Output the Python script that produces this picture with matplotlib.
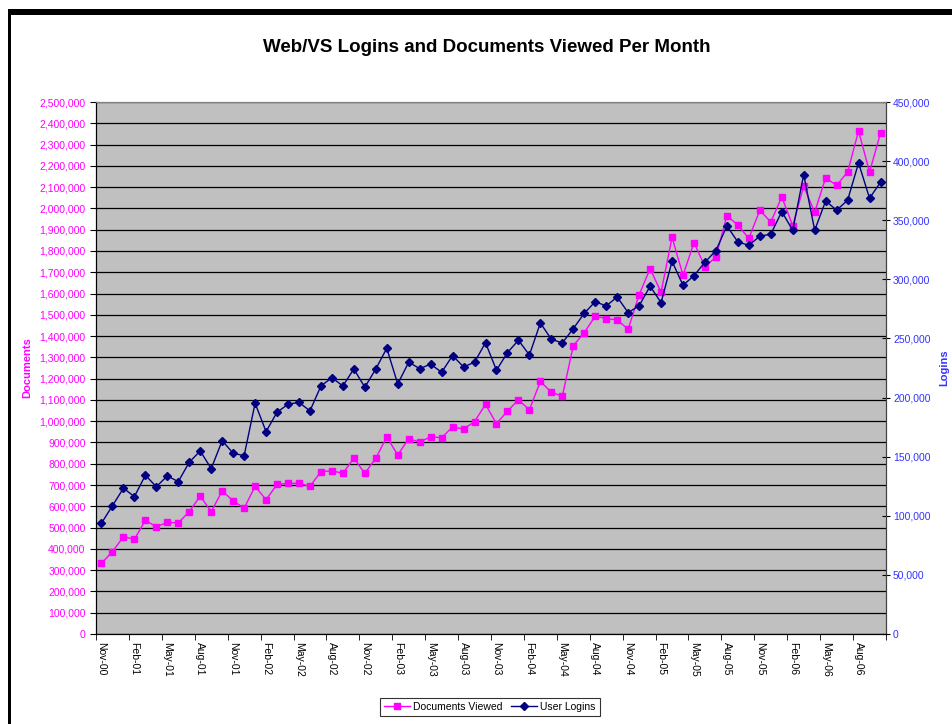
import numpy as np
import matplotlib
matplotlib.use("Agg")
import matplotlib.pyplot as plt
from matplotlib.patches import Rectangle
from matplotlib.ticker import FuncFormatter, MultipleLocator, FixedLocator

plt.rcParams['font.family'] = ['Liberation Sans', 'DejaVu Sans']

# monthly values, Nov-00 .. Oct-06
documents = [332000, 387000, 457000, 445000, 534000, 504000, 525000, 522000,
             575000, 648000, 575000, 672000, 626000, 591000, 694000, 631000,
             703000, 708000, 708000, 694000, 763000, 767000, 755000, 826000,
             755000, 826000, 926000, 841000, 918000, 902000, 927000, 922000,
             973000, 963000, 998000, 1079000, 988000, 1048000, 1100000, 1054000,
             1187000, 1136000, 1117000, 1355000, 1416000, 1494000, 1482000, 1476000,
             1432000, 1594000, 1717000, 1606000, 1864000, 1686000, 1839000, 1726000,
             1772000, 1966000, 1921000, 1859000, 1992000, 1936000, 2054000, 1919000,
             2104000, 1982000, 2144000, 2108000, 2171000, 2364000, 2171000, 2354000]

logins = [93700, 108500, 123300, 116200, 134300, 124600, 133700, 128900,
          145300, 154800, 139900, 163500, 152900, 150800, 195200, 171200,
          187600, 194300, 196000, 188700, 209800, 216800, 209800, 224200,
          208700, 224200, 241700, 211500, 229900, 224500, 228200, 221400,
          235500, 225900, 229900, 246400, 223100, 238000, 248500, 236000,
          263100, 249300, 246200, 258300, 271300, 281100, 277500, 285100,
          271800, 277700, 294200, 280300, 315300, 295000, 303100, 314500,
          324300, 345200, 331600, 328800, 336500, 338200, 357300, 341500,
          388600, 341500, 366300, 358500, 366900, 398500, 368600, 382100]

tick_labels = ["Nov-00", "Feb-01", "May-01", "Aug-01", "Nov-01", "Feb-02",
               "May-02", "Aug-02", "Nov-02", "Feb-03", "May-03", "Aug-03",
               "Nov-03", "Feb-04", "May-04", "Aug-04", "Nov-04", "Feb-05",
               "May-05", "Aug-05", "Nov-05", "Feb-06", "May-06", "Aug-06"]

doc_color = '#FF00FF'
login_color = '#000080'
right_color = '#3333FF'

fig = plt.figure(figsize=(9.52, 7.24), dpi=100)
fig.patch.set_facecolor('white')

# black frame at top and left
fig.add_artist(Rectangle((8/952, 0), 3/952, 1 - 9/724, transform=fig.transFigure,
                         facecolor='black', edgecolor='none'))
fig.add_artist(Rectangle((8/952, 1 - 15/724), 1, 6/724, transform=fig.transFigure,
                         facecolor='black', edgecolor='none'))

ax = fig.add_axes([96/952, 90/724, 790/952, 532/724])
ax.set_facecolor('#C0C0C0')
x = np.arange(len(documents))

ax.set_ylim(0, 2500000)
ax.set_xlim(-0.5, len(documents) - 0.5)
ax.yaxis.set_major_locator(MultipleLocator(100000))
ax.yaxis.set_major_formatter(FuncFormatter(lambda v, p: f"{int(v):,}"))
ax.grid(axis='y', color='black', linewidth=0.9)
ax.set_axisbelow(True)

ax.plot(x, documents, color=doc_color, marker='s', markersize=5, linewidth=1,
        label='Documents Viewed', zorder=3)

# x ticks: labels on category centres, tick marks on boundaries
ax.xaxis.set_major_locator(FixedLocator(np.arange(0, len(documents), 3)))
ax.set_xticklabels(tick_labels, rotation=-90, fontsize=7.5)
ax.xaxis.set_minor_locator(FixedLocator(np.arange(-0.5, len(documents), 3)))
ax.tick_params(axis='x', which='major', length=0, pad=6)
ax.tick_params(axis='x', which='minor', length=4, direction='out', color='black')
ax.tick_params(axis='y', labelsize=7.5, labelcolor=doc_color, length=4, direction='out')

ax.set_ylabel('Documents', color=doc_color, fontsize=8, fontweight='bold')
ax.yaxis.set_label_coords(-0.081, 0.5)

ax2 = ax.twinx()
ax2.set_ylim(0, 450000)
ax2.yaxis.set_major_locator(MultipleLocator(50000))
ax2.yaxis.set_major_formatter(FuncFormatter(lambda v, p: f"{int(v):,}"))
ax2.plot(x, logins, color=login_color, marker='D', markersize=4.5, linewidth=1,
         label='User Logins', zorder=3)
ax2.tick_params(axis='y', labelsize=7.5, labelcolor=right_color, length=6,
                direction='inout', pad=2)
ax2.set_ylabel('Logins', color=right_color, fontsize=8, fontweight='bold', rotation=90)
ax2.yaxis.set_label_coords(1.068, 0.5)

for a in (ax, ax2):
    a.spines['top'].set_color('#808080')
    a.spines['left'].set_color('black')
    a.spines['right'].set_color('#404040')
    a.spines['bottom'].set_color('black')

fig.text(487/952, 1 - 47/724, 'Web/VS Logins and Documents Viewed Per Month',
         ha='center', va='center', fontsize=13.5, fontweight='bold')

h1, l1 = ax.get_legend_handles_labels()
h2, l2 = ax2.get_legend_handles_labels()
leg = fig.legend(h1 + h2, l1 + l2, loc='center', bbox_to_anchor=(490/952, 1 - 707/724),
                 ncol=2, fontsize=7.5, frameon=True, fancybox=False, edgecolor='black',
                 handlelength=2.5, columnspacing=0.8, handletextpad=0.3,
                 borderpad=0.4, borderaxespad=0)
leg.get_frame().set_linewidth(0.8)

fig.savefig('out.png', dpi=100)
